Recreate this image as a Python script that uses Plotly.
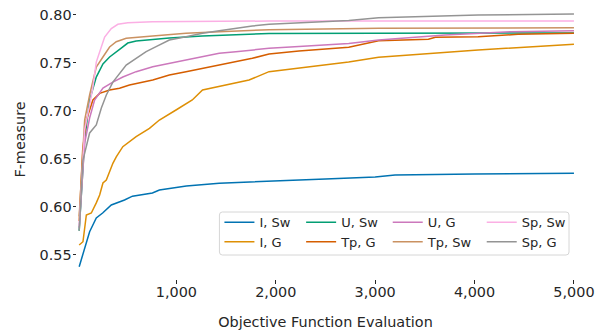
import plotly.graph_objects as go

# ---- data ----
x_i_sw = [22, 77, 127, 194, 258, 345, 478, 558, 759, 829, 1100, 1431, 1932, 2500, 3000, 3200, 4000, 5000]
y_i_sw = [0.5376, 0.558, 0.574, 0.5883, 0.5935, 0.6018, 0.607, 0.611, 0.6143, 0.6174, 0.6216, 0.6244, 0.6268, 0.629, 0.631, 0.633, 0.634, 0.635]

x_i_g = [22, 60, 94, 144, 194, 228, 261, 295, 361, 395, 461, 595, 729, 829, 996, 1160, 1263, 1431, 1731, 1932, 2232, 2733, 3034, 4036, 5000]
y_i_g = [0.5602, 0.5636, 0.5914, 0.5935, 0.604, 0.6122, 0.6247, 0.6278, 0.6452, 0.652, 0.6625, 0.6729, 0.6816, 0.6903, 0.7007, 0.7111, 0.7215, 0.725, 0.7319, 0.7406, 0.7444, 0.7507, 0.7556, 0.7632, 0.7691]

x_u_sw = [22, 77, 127, 194, 261, 328, 445, 511, 595, 929, 1260, 1598, 1932, 3000, 5000]
y_u_sw = [0.575, 0.6695, 0.711, 0.735, 0.7486, 0.7559, 0.7652, 0.7704, 0.7725, 0.7756, 0.7777, 0.7793, 0.7803, 0.7806, 0.7808]

x_tp_g = [22, 57, 94, 160, 228, 328, 428, 528, 762, 929, 1097, 1263, 1431, 1598, 1764, 1932, 2233, 2734, 3034, 3535, 3606, 4036, 4437, 5000]
y_tp_g = [0.585, 0.659, 0.6903, 0.7111, 0.718, 0.7215, 0.7233, 0.7267, 0.7319, 0.7371, 0.7406, 0.7441, 0.7475, 0.751, 0.7545, 0.759, 0.7621, 0.766, 0.7728, 0.7743, 0.7764, 0.777, 0.7795, 0.7805]

x_u_g = [22, 77, 127, 177, 261, 361, 461, 595, 762, 929, 1097, 1263, 1431, 1598, 1932, 2233, 2734, 3034, 3703, 4368, 5000]
y_u_g = [0.578, 0.6663, 0.6924, 0.7111, 0.7236, 0.7298, 0.735, 0.7406, 0.7458, 0.7493, 0.7527, 0.7562, 0.7597, 0.7614, 0.7649, 0.7668, 0.7699, 0.7736, 0.7788, 0.7822, 0.7832]

x_tp_sw = [22, 77, 127, 194, 261, 328, 395, 495, 762, 1097, 1431, 1932, 3034, 5000]
y_tp_sw = [0.59, 0.6903, 0.7163, 0.7454, 0.7559, 0.7663, 0.7718, 0.7753, 0.7777, 0.7805, 0.7822, 0.7842, 0.7857, 0.7863]

x_sp_sw = [22, 77, 127, 160, 194, 228, 278, 345, 411, 511, 759, 1932, 5000]
y_sp_sw = [0.58, 0.68, 0.706, 0.7246, 0.7506, 0.761, 0.7767, 0.7855, 0.7899, 0.7916, 0.7926, 0.7933, 0.7933]

x_sp_g = [22, 60, 127, 194, 245, 295, 361, 428, 495, 595, 696, 796, 929, 1097, 1263, 1431, 1598, 1764, 1932, 2233, 2734, 3034, 4036, 5000]
y_sp_g = [0.575, 0.6486, 0.6768, 0.6851, 0.7028, 0.7163, 0.7298, 0.7392, 0.7475, 0.7545, 0.7614, 0.7666, 0.7736, 0.777, 0.7805, 0.7832, 0.7857, 0.7881, 0.7899, 0.7913, 0.7939, 0.7968, 0.7996, 0.8006]

x_ticks = [1000, 2000, 3000, 4000, 5000]
y_ticks = [0.55, 0.60, 0.65, 0.70, 0.75, 0.80]

series = [
    ("I, Sw", x_i_sw, y_i_sw, "#0173b2", "legend", 36.7),
    ("I, G", x_i_g, y_i_g, "#de8f05", "legend2", 36.7),
    ("U, Sw", x_u_sw, y_u_sw, "#029e73", "legend", 41.6),
    ("Tp, G", x_tp_g, y_tp_g, "#d55e00", "legend2", 41.6),
    ("U, G", x_u_g, y_u_g, "#cc78bc", "legend", 49),
    ("Tp, Sw", x_tp_sw, y_tp_sw, "#ca9161", "legend2", 49),
    ("Sp, Sw", x_sp_sw, y_sp_sw, "#fbafe4", "legend", 50),
    ("Sp, G", x_sp_g, y_sp_g, "#949494", "legend2", 50),
]

FONT = "DejaVu Sans"
TXT = "#262626"

fig = go.Figure()
for name, xs, ys, col, leg, lw in series:
    fig.add_trace(go.Scatter(x=xs, y=ys, mode="lines", name=name,
                             line=dict(color=col, width=1.5),
                             legend=leg, legendwidth=lw))

ML, MR, MT, MB = 77, 19, 0, 51
W, H = 595, 330
PW, PH = W - ML - MR, H - MT - MB

def px_x(p):
    return (p - ML) / PW

def px_y(p):
    return (MT + PH - p) / PH

leg_common = dict(orientation="h", xanchor="left", yanchor="middle",
                  font=dict(family=FONT, size=13, color=TXT),
                  bgcolor="rgba(0,0,0,0)", borderwidth=0, itemwidth=30,
                  tracegroupgap=0)

# legend frame (rounded rectangle)
x0, x1 = px_x(220), px_x(571)
y0, y1 = px_y(255), px_y(212)
rx, ry = 3 / PW, 3 / PH
path = (f"M{x0+rx},{y1} L{x1-rx},{y1} Q{x1},{y1} {x1},{y1-ry} "
        f"L{x1},{y0+ry} Q{x1},{y0} {x1-rx},{y0} L{x0+rx},{y0} "
        f"Q{x0},{y0} {x0},{y0+ry} L{x0},{y1-ry} Q{x0},{y1} {x0+rx},{y1} Z")

fig.update_layout(
    width=W, height=H,
    margin=dict(l=ML, r=MR, t=MT, b=MB),
    paper_bgcolor="white", plot_bgcolor="white",
    font=dict(family=FONT, size=14.4, color=TXT),
    showlegend=True,
    legend=dict(x=px_x(220), y=px_y(222.3), **leg_common),
    legend2=dict(x=px_x(220), y=px_y(241.7), **leg_common),
    shapes=[dict(type="path", path=path, xref="paper", yref="paper",
                 line=dict(color="#d6d6d6", width=1), fillcolor="rgba(255,255,255,0.8)",
                 layer="below")],
    xaxis=dict(range=[0, 5000.5], tickvals=x_ticks, tickformat=",d",
               showgrid=False, zeroline=False, showline=False,
               ticks="outside", ticklen=3.5, tickwidth=1, tickcolor=TXT,
               ticklabelstandoff=-4, ticklabeloverflow="allow",
               tickfont=dict(family=FONT, size=14.4, color=TXT),
               title=dict(text="Objective Function Evaluation",
                          font=dict(family=FONT, size=14.4, color=TXT), standoff=18)),
    yaxis=dict(range=[0.5248, 0.8152], tickvals=y_ticks, tickformat=".2f",
               showgrid=False, zeroline=False, showline=False,
               ticks="outside", ticklen=3.5, tickwidth=1, tickcolor=TXT,
               ticklabelstandoff=-2,
               tickfont=dict(family=FONT, size=14.4, color=TXT),
               title=dict(text="F-measure",
                          font=dict(family=FONT, size=14.4, color=TXT), standoff=10)),
)

fig.write_html("out.html")
